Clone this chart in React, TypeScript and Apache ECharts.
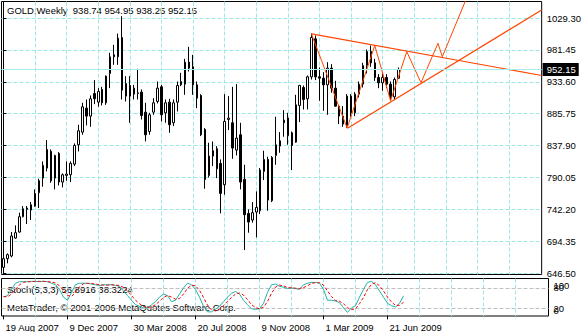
import React, { useEffect, useRef } from "react";
import * as echarts from "echarts";

const opens = [655,668,672,699,708,731,742,741,747,767, 789,804,829,789,826,783,793,794,810,839, 858,894,882,916,903,922,902,946,971,971, 1000,912,928,915,916,918,888,859,888,904, 926,887,903,872,903,929,930,963,956,929, 913,862,793,822,833,811,779,877,872,831, 854,787,736,726,738,740,799,817,755,823, 837,872,879,857,843,898,925,908,941,998, 941,939,929,954,924,897,882,868,912,887, 915,930,958,979,962,940,932,940,930,911, 938.74];
const highs = [671,676,708,718,737,747,747,753,772,788, 814,846,832,824,828,796,814,814,841,869, 902,907,913,936,924,926,943,977,989,1006, 1032,942,942,929,953,922,902,887,909,934, 929,907,908,907,934,947,968,986,974,934, 915,864,842,844,837,817,915,912,926,930, 872,809,742,753,769,804,830,821,822,881, 858,891,887,859,914,929,928,943,1006,1003, 955,948,963,960,935,898,897,915,915,918, 934,962,982,988,968,945,946,945,934,940, 954.95];
const lows = [652,661,670,698,707,730,720,726,746,744, 776,799,782,772,778,775,785,783,807,829, 854,868,866,900,896,898,899,924,959,959, 907,904,872,907,907,877,844,854,884,901, 874,872,857,867,889,927,914,949,914,894, 852,773,790,807,789,736,764,861,818,823, 772,681,707,722,700,735,786,740,753,809, 827,851,839,801,842,873,892,892,937,936, 905,890,884,917,896,870,866,864,881,882, 910,925,946,956,935,924,920,924,905,906, 938.25];
const closes = [668,674,702,707,731,743,744,749,766,785, 808,832,785,823,783,794,795,811,838,860, 896,882,908,908,919,902,942,971,974,999, 921,931,912,924,917,883,854,884,902,924, 884,902,869,902,928,934,963,954,929,909, 854,787,822,830,803,766,874,879,834,849, 783,734,723,737,745,801,817,756,820,839, 845,876,853,838,899,928,907,941,1000,941, 939,929,954,924,897,882,870,912,887,915, 930,958,979,962,940,932,940,930,911,937, 952.15];

const stochK = [53,57.7,75.6,93.5,98,98,98,99,99,98, 99,98,93.5,89,75.6,53,44,66.7,89,93.5, 93.5,93.5,91,89,87,89,89,89,87,84.5, 71,57.7,44,31,26.5,22,22,31,40,53, 62,57.7,40,44,62,80,93.5,89,75.6,53, 26.5,10.3,10.3,17.5,26.5,40,53,64,69.5,62, 44,31,19.2,17.5,19.2,35,66.7,89,91,84.5, 82,78,80,78,75.6,89,93.5,96,96,93.5, 75.6,44,44,42,37,22,8.6,22,28,53, 75.6,96,99,89,71,53,35,28,24.6,35,56.89];
const stochD = [55,54,62,75,89,96,98,98,99,99, 99,98,97,94,86,73,58,55,67,83, 92,93,93,91,89,88,88,89,88,87, 81,71,58,44,34,26,23,25,31,41, 52,58,53,47,49,62,79,88,86,73, 52,30,16,13,18,28,40,52,62,65, 59,46,31,23,19,24,40,64,82,88, 86,81,80,79,78,81,86,93,95,95, 88,71,55,43,41,34,22,17,19,34, 52,75,90,95,86,71,53,39,29,29,38.32];

const dateBars = [0, 16, 32, 48, 64, 80, 96];
const dateLabels = ["19 Aug 2007", "9 Dec 2007", "30 Mar 2008", "20 Jul 2008", "9 Nov 2008", "1 Mar 2009", "21 Jun 2009"];
const priceTicks = [646.5, 694.35, 742.2, 790.05, 837.9, 885.75, 933.6, 981.45, 1029.3];
const gridBars = [8, 16, 24, 32, 40, 48, 56, 64, 72, 80, 88, 96, 104, 112, 120, 128];
const stochLevels = [20, 80];
const stochTop = [100];
const stochBottom = [0];
const bidPrice = 952.15;

const upperTrend = [[78, 1005.5], [136.25, 943]];
const lowerTrend = [[87.1, 863.7], [136.25, 1041.3]];
const zigzag = [[78, 1005], [87, 864], [94, 988], [98, 905], [102.1, 978.7], [105.7, 932.2], [110, 991.3], [111.1, 971.2], [118, 1070]];

const headerText = "GOLD,Weekly  938.74 954.95 938.25 952.15";
const stochText = "Stoch(5,3,3) 56.8916 38.3224";
const copyrightText = "MetaTrader, \u00A9 2001-2006 MetaQuotes Software Corp.";

const FONT = "'Liberation Sans', Arial, sans-serif";
const FS = 9.5;
const GRID_COLOR = "#9fe6e6";
const ORANGE = "#ff4500";
const X_MIN = -0.5;
const X_MAX = 136.25;

export default function App() {
  const ref = useRef<HTMLDivElement>(null);
  useEffect(() => {
    if (!ref.current) return;
    const chart = echarts.init(ref.current, null, { renderer: "svg", width: 584, height: 332 });
    const candles = opens.map((o, i) => [i, o, closes[i], lows[i], highs[i]]);
    const option: any = {
      animation: false,
      backgroundColor: "#ffffff",
      textStyle: { fontFamily: FONT },
      grid: [
        { left: 1.5, top: 1.5, width: 547, height: 273, show: true, borderColor: "#000", borderWidth: 1, backgroundColor: "transparent" },
        { left: 1.5, top: 278.5, width: 547, height: 40, show: true, borderColor: "#000", borderWidth: 1, backgroundColor: "transparent" },
      ],
      xAxis: [
        { type: "value", gridIndex: 0, min: X_MIN, max: X_MAX, axisLine: { show: false }, axisTick: { show: false, customValues: gridBars }, axisLabel: { show: false }, splitLine: { show: true, lineStyle: { color: GRID_COLOR, type: [4, 2], width: 1 } } },
        { type: "value", gridIndex: 1, min: X_MIN, max: X_MAX, axisLine: { show: false }, axisTick: { show: false, customValues: gridBars }, axisLabel: { show: false }, splitLine: { show: true, lineStyle: { color: GRID_COLOR, type: [4, 2], width: 1 } } },
        { type: "value", gridIndex: 1, min: X_MIN, max: X_MAX, position: "bottom", axisLine: { show: false },
          axisTick: { show: true, customValues: dateBars, length: 4, lineStyle: { color: "#000" } },
          axisLabel: { show: true, customValues: dateBars, formatter: (v: number) => dateLabels[dateBars.indexOf(Math.round(v))] ?? "", align: "left", margin: 6, padding: [0, 0, 0, 2], color: "#000", fontSize: FS, fontFamily: FONT },
          splitLine: { show: false } },
      ],
      yAxis: [
        { type: "value", gridIndex: 0, position: "right", min: 644.25, max: 1054.07,
          axisLine: { show: true, lineStyle: { color: "#000" } },
          axisTick: { show: true, customValues: priceTicks, length: 3, lineStyle: { color: "#000" } },
          axisLabel: { customValues: priceTicks, formatter: (v: number) => v.toFixed(2), margin: 5, color: "#000", fontSize: FS, fontFamily: FONT },
          splitLine: { show: true, lineStyle: { color: GRID_COLOR, type: [4, 2], width: 1 } } },
        { type: "value", gridIndex: 1, position: "right", min: -1.82, max: 107.27,
          axisLine: { show: false }, axisTick: { show: false, customValues: stochLevels },
          axisLabel: { customValues: stochLevels, formatter: (v: number) => String(Math.round(v)), margin: 5, color: "#000", fontSize: FS, fontFamily: FONT },
          splitLine: { show: true, lineStyle: { color: "#c0c0c0", type: [4, 2], width: 1 } } },
        { type: "value", gridIndex: 1, position: "right", min: -1.82, max: 107.27,
          axisLine: { show: false }, axisTick: { show: false, customValues: stochTop },
          axisLabel: { customValues: stochTop, formatter: (v: number) => String(Math.round(v)), margin: 5, verticalAlign: "top", color: "#000", fontSize: FS, fontFamily: FONT },
          splitLine: { show: false } },
        { type: "value", gridIndex: 1, position: "right", min: -1.82, max: 107.27,
          axisLine: { show: false }, axisTick: { show: false, customValues: stochBottom },
          axisLabel: { customValues: stochBottom, formatter: (v: number) => String(Math.round(v)), margin: 5, verticalAlign: "bottom", color: "#000", fontSize: FS, fontFamily: FONT },
          splitLine: { show: false } },
      ],
      series: [
        { type: "candlestick", xAxisIndex: 0, yAxisIndex: 0, data: candles, barWidth: 2, silent: true,
          itemStyle: { color: "#ffffff", color0: "#000000", borderColor: "#000000", borderColor0: "#000000", borderColorDoji: "#000000", borderWidth: 1 },
          markLine: { silent: true, symbol: ["none", "none"], animation: false,
            lineStyle: { color: "#a6eeee", type: "solid", width: 1 },
            label: { show: true, position: "end", distance: 1, formatter: () => bidPrice.toFixed(2), color: "#fff", backgroundColor: "#000", padding: [2, 3, 1, 4], fontSize: FS, fontFamily: FONT },
            data: [{ yAxis: bidPrice }] } },
        { type: "line", xAxisIndex: 0, yAxisIndex: 0, data: upperTrend, symbol: "none", silent: true, lineStyle: { color: ORANGE, width: 1.2 } },
        { type: "line", xAxisIndex: 0, yAxisIndex: 0, data: lowerTrend, symbol: "none", silent: true, lineStyle: { color: ORANGE, width: 1.2 } },
        { type: "line", xAxisIndex: 0, yAxisIndex: 0, data: zigzag, symbol: "none", silent: true, lineStyle: { color: ORANGE, width: 1 } },
        { type: "line", xAxisIndex: 1, yAxisIndex: 1, data: stochK.map((v, i) => [i, v]), symbol: "none", silent: true, lineStyle: { color: "#20b2aa", width: 1 } },
        { type: "line", xAxisIndex: 1, yAxisIndex: 1, data: stochD.map((v, i) => [i, v]), symbol: "none", silent: true, lineStyle: { color: "#ff0000", width: 1, type: [3, 2] } },
      ],
      graphic: [
        { type: "text", left: 7, top: 5, silent: true, style: { text: headerText, fill: "#000", font: `${FS}px ${FONT}` } },
        { type: "text", left: 7, top: 284, silent: true, style: { text: stochText, fill: "#000", font: `${FS}px ${FONT}` } },
        { type: "text", left: 7, top: 302, silent: true, style: { text: copyrightText, fill: "#000", font: `${FS}px ${FONT}` } },
      ],
    };
    chart.setOption(option);
    return () => chart.dispose();
  }, []);
  return <div ref={ref} style={{ position: "absolute", left: 0, top: 0, width: 584, height: 332 }} />;
}
